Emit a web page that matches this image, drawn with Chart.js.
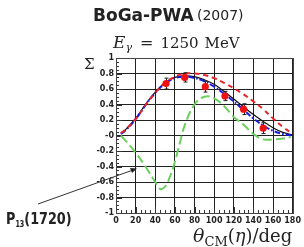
<!DOCTYPE html>
<html>
<head>
<meta charset="utf-8">
<script src="https://cdn.jsdelivr.net/npm/chart.js@4"></script>
<style>
  html, body { margin: 0; padding: 0; background: #fff; }
  #wrap { width: 304px; height: 247px; position: relative; }
</style>
</head>
<body>
<div id="wrap"><canvas id="graph"></canvas></div>
<script>
// curves, angle grid in degrees
const angles = [5, 10, 20, 30, 40, 50, 60, 70, 80, 90, 100, 110, 120, 130, 140, 150, 160, 170, 180];
const blackFit = [0.03, 0.08, 0.22, 0.40, 0.56, 0.68, 0.75, 0.77, 0.76, 0.72, 0.66, 0.57, 0.47, 0.37, 0.27, 0.18, 0.10, 0.04, 0.01];
const blueFit  = [0.02, 0.07, 0.21, 0.39, 0.55, 0.67, 0.74, 0.76, 0.74, 0.70, 0.63, 0.54, 0.44, 0.33, 0.22, 0.13, 0.06, 0.02, 0.00];
const redFit   = [0.03, 0.08, 0.21, 0.39, 0.55, 0.68, 0.76, 0.80, 0.80, 0.78, 0.74, 0.68, 0.61, 0.53, 0.44, 0.34, 0.22, 0.11, 0.02];

// P13(1720) switched off
const greenAngles = [5, 10, 20, 30, 40, 45, 50, 55, 60, 65, 70, 80, 90, 100, 110, 120, 130, 140, 150, 160, 170, 178];
const greenFit    = [0, -0.07, -0.22, -0.40, -0.60, -0.69, -0.66, -0.53, -0.34, -0.10, 0.13, 0.40, 0.50, 0.48, 0.38, 0.24, 0.14, 0.02, -0.05, -0.05, -0.04, -0.02];

// measured points
const dataAngles = [51, 70, 91, 111, 130, 150];
const dataSigma  = [0.67, 0.75, 0.63, 0.51, 0.34, 0.095];
const dataErr    = [0.07, 0.06, 0.07, 0.06, 0.07, 0.07];

const xTicks = [0, 20, 40, 60, 80, 100, 120, 140, 160, 180];
const yTicks = [1, 0.8, 0.6, 0.4, 0.2, 0, -0.2, -0.4, -0.6, -0.8, -1];

function toXY(xs, ys) {
    return xs.map((x, i) => ({x: x, y: ys[i]}));
}

function lineSet(xs, ys, color, width, dash) {
    return {
        type: 'scatter',
        data: toXY(xs, ys),
        showLine: true,
        borderColor: color,
        borderWidth: width,
        borderDash: dash,
        pointRadius: 0,
        tension: 0.4,
        fill: false
    };
}

// draw a run of text pieces one after the other, returns end x
function pieces(ctx, x, list) {
    list.forEach(p => {
        ctx.font = p[0];
        ctx.fillText(p[1], x, p[2]);
        x += ctx.measureText(p[1]).width + (p[3] || 0);
    });
    return x;
}

// frame, minor ticks, error bars and all the text around the plot
const extras = {
    id: 'extras',
    beforeDatasetsDraw(chart) {
        const ctx = chart.ctx;
        const xs = chart.scales.x, ys = chart.scales.y;
        const a = chart.chartArea;
        ctx.save();
        ctx.strokeStyle = '#333';
        ctx.lineWidth = 1;
        // minor ticks
        ctx.beginPath();
        for (let v = 0; v <= 180; v += 5) {
            const px = Math.round(xs.getPixelForValue(v)) + 0.5;
            const len = v % 20 === 0 ? 6 : 3;
            ctx.moveTo(px, a.bottom);
            ctx.lineTo(px, a.bottom - len);
        }
        for (let i = 0; i <= 40; i++) {
            const v = -1 + i * 0.05;
            const py = Math.round(ys.getPixelForValue(v)) + 0.5;
            const len = i % 4 === 0 ? 6 : 3;
            ctx.moveTo(a.left, py);
            ctx.lineTo(a.left + len, py);
        }
        ctx.stroke();
        ctx.restore();
    },
    afterDatasetsDraw(chart) {
        const ctx = chart.ctx;
        const xs = chart.scales.x, ys = chart.scales.y;
        const a = chart.chartArea;
        ctx.save();
        // error bars
        ctx.strokeStyle = '#222';
        ctx.lineWidth = 1;
        dataAngles.forEach((ang, i) => {
            const px = Math.round(xs.getPixelForValue(ang)) + 0.5;
            const y1 = ys.getPixelForValue(dataSigma[i] + dataErr[i]);
            const y2 = ys.getPixelForValue(dataSigma[i] - dataErr[i]);
            ctx.beginPath();
            ctx.moveTo(px, y1); ctx.lineTo(px, y2);
            ctx.moveTo(px - 2, y1); ctx.lineTo(px + 2, y1);
            ctx.moveTo(px - 2, y2); ctx.lineTo(px + 2, y2);
            ctx.stroke();
        });
        // points on top
        ctx.fillStyle = '#ee1111';
        dataAngles.forEach((ang, i) => {
            ctx.beginPath();
            ctx.arc(xs.getPixelForValue(ang), ys.getPixelForValue(dataSigma[i]), 3.6, 0, Math.PI * 2);
            ctx.fill();
        });
        // frame
        ctx.strokeStyle = '#444';
        ctx.strokeRect(Math.round(a.left) + 0.5, Math.round(a.top) + 0.5,
            Math.round(a.right - a.left), Math.round(a.bottom - a.top));

        ctx.fillStyle = '#222';
        ctx.textBaseline = 'alphabetic';
        // title
        ctx.font = 'bold 17px "DejaVu Sans"';
        ctx.fillText('BoGa-PWA', 93, 21);
        ctx.font = '14px "DejaVu Sans"';
        ctx.fillText('(2007)', 197, 20);

        // energy label
        pieces(ctx, 113, [
            ['italic 17px "DejaVu Serif"', 'E', 48],
            ['italic 11px "DejaVu Serif"', 'γ', 51, 8],
            ['16px "DejaVu Serif"', '=', 48, 7],
            ['15px "DejaVu Serif"', '1250', 48, 6],
            ['15px "DejaVu Serif"', 'MeV', 48]
        ]);

        // y axis symbol
        ctx.font = '15px "DejaVu Serif"';
        ctx.fillText('Σ', 84, 69);

        // x axis title
        pieces(ctx, 193, [
            ['italic 19px "DejaVu Serif"', 'θ', 242],
            ['13px "DejaVu Serif"', 'CM', 246],
            ['18px "DejaVu Serif"', '(', 242],
            ['italic 18px "DejaVu Serif"', 'η', 242],
            ['18px "DejaVu Serif"', ')/deg', 242]
        ]);

        // P13(1720) label, squeezed to the width of the original
        ctx.save();
        ctx.translate(6, 0);
        ctx.scale(0.8, 1);
        pieces(ctx, 0, [
            ['bold 16px "DejaVu Sans"', 'P', 224],
            ['bold 8px "DejaVu Sans"', '13', 227],
            ['bold 16px "DejaVu Sans"', '(1720)', 224]
        ]);
        ctx.restore();

        ctx.strokeStyle = '#333';
        ctx.beginPath();
        ctx.moveTo(38, 204);
        ctx.lineTo(133, 170);
        ctx.stroke();
        ctx.beginPath();
        ctx.moveTo(137, 168.5);
        ctx.lineTo(130, 168);
        ctx.lineTo(132, 173);
        ctx.closePath();
        ctx.fill();
        ctx.restore();
    }
};

document.addEventListener('DOMContentLoaded', function() {
    const graphData = {
        datasets: [
            lineSet(greenAngles, greenFit, '#6ccf5f', 2, [9, 4]),
            lineSet(angles, redFit, '#e8262a', 2, [5, 4]),
            lineSet(angles, blueFit, '#1a1ae0', 2, [6, 2, 1.5, 2]),
            lineSet(angles, blackFit, '#111', 1.2, [])
        ]
    };

    const config = {
        type: 'scatter',
        data: graphData,
        options: {
            responsive: false,
            animation: false,
            layout: { padding: { left: 0, right: 8, top: 58, bottom: 0 } },
            plugins: {
                legend: { display: false },
                tooltip: { enabled: false }
            },
            scales: {
                x: {
                    type: 'linear',
                    min: 0, max: 180,
                    afterFit: s => { s.height = 34; },
                    afterBuildTicks: s => { s.ticks = xTicks.map(v => ({value: v})); },
                    border: { display: false },
                    grid: { color: '#222', borderDash: [1, 2], lineWidth: 1, drawTicks: false },
                    ticks: { padding: 3, color: '#222', maxRotation: 0, font: { family: 'DejaVu Sans', size: 8, weight: 'bold' } }
                },
                y: {
                    type: 'linear',
                    min: -1, max: 1,
                    afterFit: s => { s.width = 116; },
                    afterBuildTicks: s => { s.ticks = yTicks.map(v => ({value: v})); },
                    border: { display: false },
                    grid: { color: '#222', borderDash: [1, 2], lineWidth: 1, drawTicks: false },
                    ticks: {
                        padding: 2, color: '#222',
                        font: { family: 'DejaVu Sans', size: 8, weight: 'bold' },
                        callback: v => v === 0 ? '-0' : String(Math.round(v * 10) / 10)
                    }
                }
            }
        },
        plugins: [extras]
    };

    const canvas = document.getElementById('graph');
    canvas.width = 304;
    canvas.height = 247;
    canvas.style.width = '304px';
    canvas.style.height = '247px';
    const graph = new Chart(canvas.getContext('2d'), config);
});
</script>
</body>
</html>
